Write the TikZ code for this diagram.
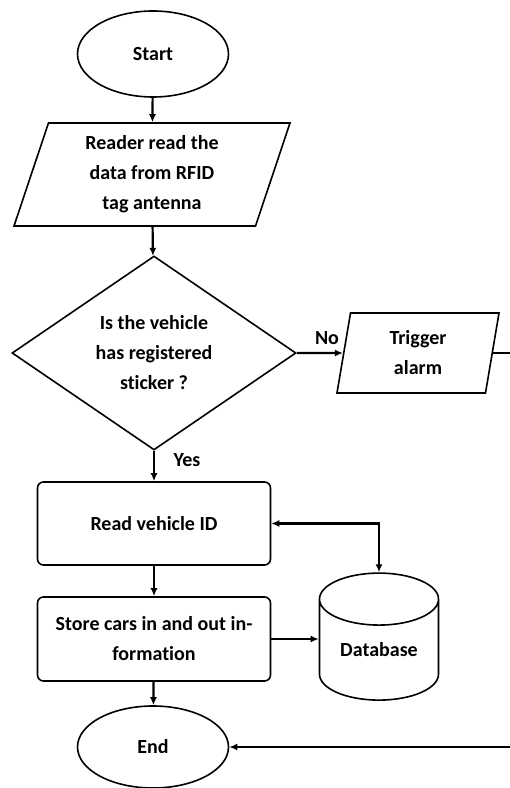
\documentclass[tikz,border=0pt]{standalone}
\usepackage{fontspec}
\setmainfont{Carlito}[Ligatures=NoCommon]
\usetikzlibrary{shapes.geometric,arrows.meta}

\begin{document}
\begin{tikzpicture}[x=1pt,y=1pt,
  every node/.style={font=\bfseries\fontsize{20}{30}\selectfont,align=center,inner sep=0pt},
  oval/.style={draw,ellipse,line width=1.6pt,minimum width=151pt,minimum height=86pt},
  io/.style={draw,trapezium,trapezium stretches body,line width=1.6pt},
  box/.style={draw,rounded corners=6pt,line width=1.6pt,minimum width=233pt,minimum height=83pt},
  arr/.style={line width=2.2pt,-{Latex[length=8pt,width=7pt]}}]
\clip (0,0) rectangle (510,788);
\node[oval] (start) at (153,734) {Start};
\node[io,trapezium left angle=66,trapezium right angle=114,minimum width=276pt,minimum height=103pt] (reader) at (152,613.5) {Reader read the\\data from RFID\\tag antenna};
\node[draw,diamond,line width=1.6pt,aspect=1.46,minimum width=284pt,minimum height=194pt] (check) at (154,435) {Is the vehicle\\has registered\\sticker ?};
\node[io,trapezium left angle=73,trapezium right angle=107,minimum width=162pt,minimum height=80pt] (alarm) at (418,435) {Trigger\\alarm};
\node[box] (readid) at (154,264.5) {Read vehicle ID};
\node[box,minimum height=84pt] (store) at (154,149) {Store cars in and out in-\\formation};
\node[draw,cylinder,shape border rotate=90,aspect=0.67,line width=1.6pt,minimum width=119pt,minimum height=127pt] (db) at (379,138) {Database};
\node[oval,minimum height=82pt] (end) at (153,41) {End};
\node (no) at (327,450) {No};
\node (yes) at (187,328) {Yes};
\foreach \a/\b in {start/reader,reader/check,check/readid,readid/store,store/end} {
  \draw[arr] (\a) -- (\b);
}
\draw[arr] (check.east) -- (alarm.west);
\draw[arr,{Latex[length=8pt,width=7pt]}-{Latex[length=8pt,width=7pt]}] (readid.east) -| (db.north);
\draw[arr] (store.east) -- (store.east -| db.west);
\draw[arr] (alarm.east) -- ++(40,0) |- (end.east);
\end{tikzpicture}
\end{document}
